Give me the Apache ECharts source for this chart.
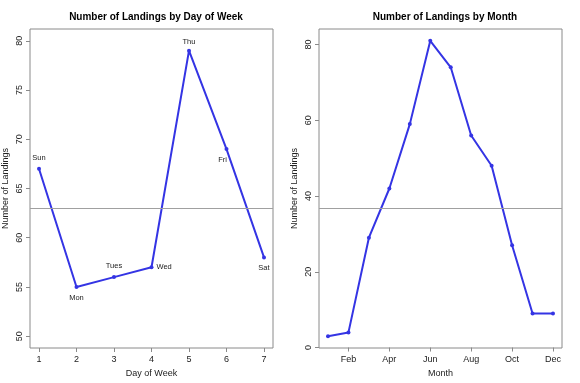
<!DOCTYPE html>
<html>
<head>
<meta charset="utf-8">
<script src="https://cdn.jsdelivr.net/npm/echarts@6/dist/echarts.min.js"></script>
<style>html,body{margin:0;padding:0;background:#fff}#c{width:580px;height:383px}</style>
</head>
<body>
<div id="c"></div>
<script>
// Data
const dayNums = [1, 2, 3, 4, 5, 6, 7];
const dayNames = ['Sun', 'Mon', 'Tues', 'Wed', 'Thu', 'Fri', 'Sat'];
const dayCounts = [67, 55, 56, 57, 79, 69, 58];
const dayLabelPos = ['top', 'bottom', 'top', 'right', 'top', 'bottom', 'bottom'];
const dayMean = 63;
const dayTicks = [1, 2, 3, 4, 5, 6, 7];
const dayYTicks = [50, 55, 60, 65, 70, 75, 80];

const monthNums = [1, 2, 3, 4, 5, 6, 7, 8, 9, 10, 11, 12];
const monthNames = ['Jan', 'Feb', 'Mar', 'Apr', 'May', 'Jun', 'Jul', 'Aug', 'Sep', 'Oct', 'Nov', 'Dec'];
const monthCounts = [3, 4, 29, 42, 59, 81, 74, 56, 48, 27, 9, 9];
const monthMean = 36.75;
const monthTicks = [2, 4, 6, 8, 10, 12];
const monthYTicks = [0, 20, 40, 60, 80];

const FONT = 'Liberation Sans, Arial, sans-serif';
const BLUE = '#3434e4';
const GRAY = '#8a8a8a';
const TXT = '#222';

const chart = echarts.init(document.getElementById('c'), null, {renderer: 'canvas'});

function xAxisCfg(idx, min, max, ticks, name, fmt) {
  return {
    type: 'value', gridIndex: idx, min: min, max: max,
    name: name, nameLocation: 'middle', nameGap: 20,
    nameTextStyle: {fontFamily: FONT, fontSize: 9, color: TXT},
    axisLine: {show: false},
    splitLine: {show: false},
    axisTick: {show: true, inside: false, length: 4, customValues: ticks, lineStyle: {color: GRAY}},
    axisLabel: {show: true, customValues: ticks, margin: 7, fontFamily: FONT, fontSize: 9, color: TXT,
      formatter: fmt || (v => String(v))}
  };
}
function yAxisCfg(idx, min, max, ticks, name) {
  return {
    type: 'value', gridIndex: idx, min: min, max: max,
    name: name, nameLocation: 'middle', nameGap: 20, nameRotate: 90,
    nameTextStyle: {fontFamily: FONT, fontSize: 9, color: TXT},
    axisLine: {show: false},
    splitLine: {show: false},
    axisTick: {show: true, inside: false, length: 4, customValues: ticks, lineStyle: {color: GRAY}},
    axisLabel: {show: true, customValues: ticks, rotate: 90, margin: 6, fontFamily: FONT, fontSize: 9, color: TXT}
  };
}

chart.setOption({
  animation: false,
  backgroundColor: '#fff',
  title: [
    {text: 'Number of Landings by Day of Week', left: 151, top: 7, textAlign: 'center',
      textStyle: {fontFamily: FONT, fontSize: 10, fontWeight: 'bold', color: '#000'}},
    {text: 'Number of Landings by Month', left: 440, top: 7, textAlign: 'center',
      textStyle: {fontFamily: FONT, fontSize: 10, fontWeight: 'bold', color: '#000'}}
  ],
  grid: [
    {left: 30, right: 307, top: 29, bottom: 35, show: true, borderColor: GRAY, borderWidth: 1, backgroundColor: 'transparent'},
    {left: 319, right: 18, top: 29, bottom: 35, show: true, borderColor: GRAY, borderWidth: 1, backgroundColor: 'transparent'}
  ],
  xAxis: [
    xAxisCfg(0, 0.76, 7.24, dayTicks, 'Day of Week'),
    xAxisCfg(1, 0.56, 12.44, monthTicks, 'Month', v => monthNames[Math.round(v) - 1])
  ],
  yAxis: [
    yAxisCfg(0, 48.8, 81.2, dayYTicks, 'Number of Landings'),
    yAxisCfg(1, -0.12, 84.12, monthYTicks, 'Number of Landings')
  ],
  series: [
    {
      type: 'line', xAxisIndex: 0, yAxisIndex: 0,
      data: dayNums.map((d, i) => ({
        value: [d, dayCounts[i]],
        label: {show: true, formatter: dayNames[i], position: dayLabelPos[i],
          distance: dayLabelPos[i] === 'right' ? 3 : (dayNames[i] === 'Thu' ? 3 : 5),
          offset: dayNames[i] === 'Fri' ? [-4, 0] : [0, 0]}
      })),
      symbol: 'circle', symbolSize: 4,
      itemStyle: {color: BLUE},
      lineStyle: {color: BLUE, width: 2},
      label: {fontFamily: FONT, fontSize: 7.5, color: TXT},
      markLine: {
        silent: true, symbol: 'none', label: {show: false},
        lineStyle: {color: '#a0a0a0', width: 1, type: 'solid'},
        data: [{yAxis: dayMean}]
      }
    },
    {
      type: 'line', xAxisIndex: 1, yAxisIndex: 1,
      data: monthNums.map((m, i) => [m, monthCounts[i]]),
      symbol: 'circle', symbolSize: 4,
      itemStyle: {color: BLUE},
      lineStyle: {color: BLUE, width: 2},
      markLine: {
        silent: true, symbol: 'none', label: {show: false},
        lineStyle: {color: '#a0a0a0', width: 1, type: 'solid'},
        data: [{yAxis: monthMean}]
      }
    }
  ]
});
</script>
</body>
</html>
